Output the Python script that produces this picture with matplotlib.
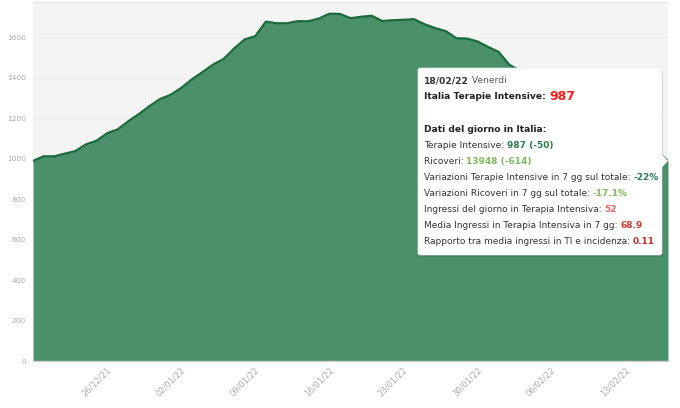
import matplotlib
matplotlib.use("Agg")
import matplotlib.pyplot as plt
from matplotlib.patches import FancyBboxPatch, Polygon
import pandas as pd

# ---- data ----
dates = pd.date_range("2021-12-20", "2022-02-18", freq="D")
terapie_intensive = [
    989, 1012, 1012, 1025, 1038, 1071, 1089, 1126, 1145, 1185,
    1221, 1260, 1295, 1316, 1350, 1392, 1428, 1465, 1493, 1545,
    1590, 1606, 1678, 1670, 1670, 1680, 1680, 1693, 1717, 1716,
    1695, 1702, 1707, 1681, 1685, 1687, 1690, 1665, 1646, 1631,
    1596, 1594, 1580, 1553, 1528, 1465, 1435, 1415, 1400, 1395,
    1370, 1330, 1295, 1265, 1230, 1205, 1180, 1135, 1085, 1037,
    987,
]
tick_dates = ["2021-12-26", "2022-01-02", "2022-01-09", "2022-01-16",
              "2022-01-23", "2022-01-30", "2022-02-06", "2022-02-13"]
tick_labels = ["26/12/21", "02/01/22", "09/01/22", "16/01/22",
               "23/01/22", "30/01/22", "06/02/22", "13/02/22"]
y_ticks = [0, 200, 400, 600, 800, 1000, 1200, 1400, 1600]

tooltip_date = "18/02/22"
tooltip_day = " Venerdi"
tooltip_title = "Italia Terapie Intensive: "
tooltip_value = "987"
tooltip_header = "Dati del giorno in Italia:"
tooltip_rows = [
    ("Terapie Intensive: ", "987 (-50)", "#2b7a4b"),
    ("Ricoveri: ", "13948 (-614)", "#7dba5c"),
    ("Variazioni Terapie Intensive in 7 gg sul totale: ", "-22%", "#2b7a4b"),
    ("Variazioni Ricoveri in 7 gg sul totale: ", "-17.1%", "#7dba5c"),
    ("Ingressi del giorno in Terapia Intensiva: ", "52", "#e8645a"),
    ("Media Ingressi in Terapia Intensiva in 7 gg: ", "68.9", "#d03a2e"),
    ("Rapporto tra media ingressi in TI e incidenza: ", "0.11", "#c0302a"),
]

# ---- figure ----
W, H = 680, 408
fig = plt.figure(figsize=(W / 100, H / 100), dpi=100)
fig.patch.set_facecolor("white")
ax = fig.add_axes([33 / W, (H - 361) / H, 635 / W, 359 / H])
ax.set_facecolor("#f4f4f4")

ax.fill_between(dates, terapie_intensive, 0, color="#4a906a", linewidth=0, zorder=2)
ax.plot(dates, terapie_intensive, color="#1b6b3a", linewidth=1.6, zorder=3)

ax.set_xlim(dates[0], dates[-1])
ax.set_ylim(0, 1775)
ax.set_yticks(y_ticks)
ax.set_yticklabels([str(v) for v in y_ticks], fontsize=5.4, color="#aaaaaa")
ax.set_xticks(pd.to_datetime(tick_dates))
ax.set_xticklabels(tick_labels, rotation=45, ha="center", fontsize=6.0, color="#aaaaaa")
ax.tick_params(axis="both", length=0, pad=5)
ax.tick_params(axis="x", pad=3)
ax.grid(axis="y", color="#ebebeb", linewidth=0.8, zorder=1)
ax.grid(axis="x", visible=False)
for s in ["right", "left"]:
    ax.spines[s].set_visible(False)
ax.spines["top"].set_color("#e2e2e2")
ax.spines["bottom"].set_color("#d0d0d0")
ax.spines["bottom"].set_linewidth(1.0)

# ---- tooltip ----
def fx(px):
    return px / W

def fy(py):
    return 1 - py / H

bx0, by0, bx1, by1 = 418, 68, 662, 255
shadow = FancyBboxPatch((fx(bx0 + 1), fy(by1 + 2)), fx(bx1 - bx0), (by1 - by0) / H,
                        boxstyle="round,pad=0,rounding_size=0.004",
                        transform=fig.transFigure, facecolor="#000000", alpha=0.12,
                        edgecolor="none", zorder=9)
fig.patches.append(shadow)
box = FancyBboxPatch((fx(bx0), fy(by1)), fx(bx1 - bx0), (by1 - by0) / H,
                     boxstyle="round,pad=0,rounding_size=0.004",
                     transform=fig.transFigure, facecolor="white",
                     edgecolor="#e6e6e6", linewidth=0.5, zorder=10)
fig.patches.append(box)
caret = Polygon([(fx(bx1 - 0.5), fy(154)), (fx(bx1 + 6), fy(161)), (fx(bx1 - 0.5), fy(168))],
                closed=True, transform=fig.transFigure, facecolor="white",
                edgecolor="none", zorder=11)
fig.patches.append(caret)

renderer = fig.canvas.get_renderer()

def draw_segments(x_px, y_px, segments):
    x = x_px
    for txt, weight, color, size in segments:
        t = fig.text(fx(x), fy(y_px), txt, fontsize=size, fontweight=weight,
                     color=color, ha="left", va="center", zorder=12,
                     family="DejaVu Sans")
        bb = t.get_window_extent(renderer=renderer)
        x += bb.width

tx = 424
fs = 6.45
draw_segments(tx, 80.5, [(tooltip_date, "bold", "#333333", 6.6),
                         (tooltip_day, "normal", "#555555", 6.6)])
draw_segments(tx, 96.5, [(tooltip_title, "bold", "#222222", 6.6),
                         (tooltip_value, "bold", "#ff1a1a", 9.0)])
draw_segments(tx, 129.5, [(tooltip_header, "bold", "#222222", 6.6)])
row_y = [145.7, 161.7, 177.7, 193.8, 210, 225.8, 241.7]
for (lab, val, col), yy in zip(tooltip_rows, row_y):
    draw_segments(tx, yy, [(lab, "normal", "#333333", fs), (val, "bold", col, fs)])

fig.savefig("out.png", dpi=100, facecolor="white")
